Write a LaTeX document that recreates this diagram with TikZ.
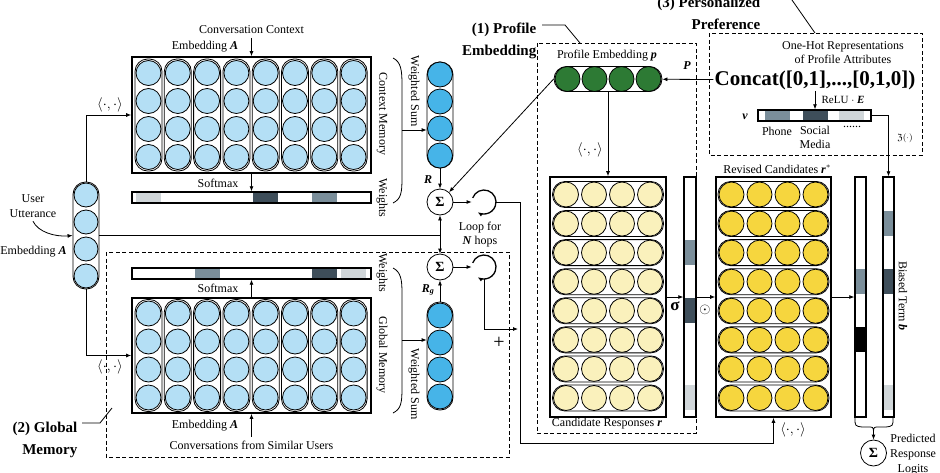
\documentclass[tikz,border=0pt]{standalone}
\usepackage{fontspec}
\setmainfont{Liberation Serif}
\usepackage{amssymb}
\usetikzlibrary{arrows.meta,positioning}

\definecolor{memblue}{RGB}{180,223,245}
\definecolor{sumblue}{RGB}{70,180,232}
\definecolor{profgreen}{RGB}{45,122,52}
\definecolor{candyellow}{RGB}{250,241,188}
\definecolor{revyellow}{RGB}{246,214,62}
\definecolor{wlight}{RGB}{208,214,217}
\definecolor{wmid}{RGB}{122,142,154}
\definecolor{wdark}{RGB}{62,78,90}

\newcommand{\mvec}[1]{\textbf{\textit{#1}}}
\newcommand{\inprod}{$\langle\cdot,\cdot\rangle$}

\begin{document}
\begin{tikzpicture}[x=1pt,y=-1pt,line width=0.8pt,
  font=\fontsize{12}{14}\selectfont,
  >={Latex[length=5pt,width=4pt]},
  membox/.style={draw,line width=1.6pt,inner sep=0pt},
  wbar/.style={draw,line width=1.4pt,inner sep=0pt},
  capsule/.style={draw,rounded corners=12.5pt,inner sep=0pt},
  cell/.style={circle,draw,inner sep=0pt,minimum size=25pt},
  sumnode/.style={circle,draw,inner sep=0pt,minimum size=26pt,font=\fontsize{14}{14}\selectfont\bfseries},
  loopnode/.style={circle,inner sep=0pt,minimum size=24pt},
  group/.style={draw,dash pattern=on 4pt off 2.5pt},
  grouplabel/.style={anchor=east,align=right,font=\fontsize{15}{22}\selectfont\bfseries},
  sidelabel/.style={rotate=-90},
  prodlabel/.style={font=\fontsize{15}{15}\selectfont},
  twolines/.style={align=center,font=\fontsize{12}{15}\selectfont}]
  \useasboundingbox (0,0) rectangle (940,472);

  % context memory
  \node[membox,minimum width=239,minimum height=116] (ctxmem) at (251.5,115) {};
  \foreach \i in {0,...,7} {
    \node[capsule,minimum width=27,minimum height=112] at (148.5+\i*29.3,115) {};
    \foreach \j in {0,...,3}
      \node[cell,fill=memblue] at (148.5+\i*29.3,73+\j*28) {};
  }
  \node[wbar,minimum width=239,minimum height=11] (ctxw) at (251.5,197.5) {};
  \foreach \i/\c in {0/wlight,4/wdark,6/wmid}
    \fill[\c] (136+\i*29.3,193) rectangle +(25,9);
  \node (ctxin) at (251.5,30) {Conversation Context};
  \node at (205,47) {Embedding \mvec{A}};
  \node at (218,183) {Softmax};
  \draw[->] (ctxin) -- (ctxmem);
  \draw[->] (ctxmem) -- (ctxw);
  \node[sidelabel] at (382,114) {Context Memory};
  \node[sidelabel] at (382,198) {Weights};
  \node[sidelabel] at (414,91) {Weighted Sum};

  % global memory
  \node[membox,minimum width=239,minimum height=115] (glbmem) at (251.5,355.5) {};
  \foreach \i in {0,...,7} {
    \node[capsule,minimum width=27,minimum height=112] at (148.5+\i*29.3,355.5) {};
    \foreach \j in {0,...,3}
      \node[cell,fill=memblue] at (148.5+\i*29.3,313.5+\j*28) {};
  }
  \node[wbar,minimum width=239,minimum height=11] (glbw) at (251.5,273.5) {};
  \foreach \i/\c in {2/wmid,6/wdark,7/wlight}
    \fill[\c] (136+\i*29.3,269) rectangle +(25,9);
  \node (glbin) at (251.5,445) {Conversations from Similar Users};
  \node at (205,426) {Embedding \mvec{A}};
  \node at (218,288) {Softmax};
  \draw[->] (glbin) -- (glbmem);
  \draw[->] (glbmem) -- (glbw);
  \node[sidelabel] at (382,273) {Weights};
  \node[sidelabel] at (382,355) {Global Memory};
  \node[sidelabel] at (414,384) {Weighted Sum};

  % user utterance
  \node[capsule,minimum width=26,minimum height=107] (user) at (86,235.5) {};
  \foreach \j in {0,...,3}
    \node[cell,fill=memblue,minimum size=24pt] at (86,195+\j*27) {};
  \node[twolines] (utt) at (33,206) {User\\Utterance};
  \node at (33.5,252) {Embedding \mvec{A}};
  \draw[->] (utt.south) .. controls (38,232) and (55,237) .. (user.west);
  \draw[->] (user.north) |- (ctxmem.west);
  \draw[->] (user.south) |- (glbmem.west);
  \node[prodlabel] at (110,105) {\inprod};
  \node[prodlabel] at (110,367) {\inprod};

  % weighted sums
  \node[capsule,minimum width=26,minimum height=106] (rvec) at (440,115) {};
  \node[capsule,minimum width=26,minimum height=108] (rgvec) at (440,356) {};
  \foreach \j in {0,...,3} {
    \node[cell,fill=sumblue] at (440,74.5+\j*27) {};
    \node[cell,fill=sumblue] at (440,315.5+\j*27) {};
  }
  \draw (393,58) .. controls (401,62) and (402,70) .. (402,85) -- (402,178)
    .. controls (402,193) and (401,199) .. (393,203);
  \draw (393,268) .. controls (401,272) and (402,280) .. (402,293) -- (402,388)
    .. controls (402,403) and (401,409) .. (393,413);
  \coordinate (cws) at (402,130);
  \coordinate (gws) at (402,340);
  \draw[->] (cws) -- (cws -| rvec.west);
  \draw[->] (gws) -- (gws -| rgvec.west);

  % hops
  \node[sumnode] (sum1) at (440,202) {Σ};
  \node[sumnode] (sum2) at (440,267) {Σ};
  \node[loopnode] (loop1) at (484,202) {};
  \node[loopnode] (loop2) at (484,267) {};
  \foreach \l in {loop1,loop2}
    \draw[->,line width=1.3pt] (\l) ++(-160:12) arc[start angle=-160,end angle=122,radius=12];
  \node at (428,180) {\mvec{R}};
  \node at (428,290) {\mvec{R}\textsubscript{\mvec{g}}};
  \node[align=center] at (480,235) {Loop for\\\mvec{N} hops};
  \draw[->] (rvec) -- (sum1);
  \draw[->] (rgvec) -- (sum2);
  \draw[<->] (sum1) -- (sum2);
  \draw (user.east) -- (user.east -| sum1.center);
  \draw[->] (sum1) -- (loop1.west);
  \draw[->] (sum2) -- (loop2.west);
  \coordinate (join) at (518,329);
  \draw[->] (loop2.south) |- (join);
  \node[font=\fontsize{20}{20}\selectfont] at (499,343) {+};

  % profile embedding
  \node[capsule,minimum width=108,minimum height=25] (prof) at (608,79) {};
  \foreach \i in {0,...,3}
    \node[cell,fill=profgreen] at (567.5+\i*27,79) {};
  \node at (607,56) {Profile Embedding \mvec{p}};
  \draw[->] (prof.west) -- (sum1);

  % candidates
  \node[membox,minimum width=116,minimum height=240] (cand) at (608,297) {};
  \node[membox,minimum width=115,minimum height=240] (rev) at (773.5,297) {};
  \foreach \j in {0,...,7} {
    \node[capsule,minimum width=111,minimum height=26] at (608,194.5+\j*29.07) {};
    \node[capsule,minimum width=111,minimum height=26] at (773.5,194.5+\j*29.07) {};
    \foreach \i in {0,...,3} {
      \node[cell,fill=candyellow] at (566+\i*28,194.5+\j*29.07) {};
      \node[cell,fill=revyellow] at (731.5+\i*28,194.5+\j*29.07) {};
    }
  }
  \node at (607,424) {Candidate Responses \mvec{r}};
  \node at (777,169) {Revised Candidates \mvec{r}$^*$};
  \node[prodlabel] at (590,150) {\inprod};
  \draw[->] (prof) -- (cand);

  % score bars
  \node[wbar,minimum width=12,minimum height=240] (sig) at (690,297) {};
  \node[wbar,minimum width=11,minimum height=240] (out) at (860.5,297) {};
  \node[wbar,minimum width=11,minimum height=240] (bias) at (888.5,297) {};
  \foreach \j/\c in {2/wmid,4/wdark,7/wlight}
    \fill[\c] (685,182+\j*29.07) rectangle +(10,25);
  \foreach \j/\c in {3/wmid,5/black}
    \fill[\c] (856,182+\j*29.07) rectangle +(9,25);
  \foreach \j/\c in {1/wmid,3/wdark,7/wlight}
    \fill[\c] (884,182+\j*29.07) rectangle +(9,25);
  \draw[->] (cand) -- (sig);
  \draw[->] (sig) -- (rev);
  \draw[->] (rev) -- (out);
  \node[font=\fontsize{17}{17}\selectfont\bfseries] at (675,306) {σ};
  \node[font=\fontsize{14}{14}\selectfont] at (705,310) {$\odot$};
  \node[sidelabel] at (903,296) {Biased Term \mvec{b}};

  \coordinate (turn) at (520,443);
  \draw[->] (loop1.east) -| (turn) -| (rev.south);
  \node[prodlabel] at (793,430) {\inprod};

  % personalized preference
  \node[align=center,font=\fontsize{12}{14}\selectfont] at (843,53) {One-Hot Representations\\of Profile Attributes};
  \node[font=\fontsize{21}{23}\selectfont\bfseries,inner sep=1pt] (concat) at (815,80) {Concat([0,1],...,[0,1,0])};
  \node[wbar,minimum width=113,minimum height=11] (vbar) at (814.5,115.5) {};
  \foreach \a/\c in {765/wmid,803/wdark,839/wlight}
    \fill[\c] (\a,111) rectangle +(25,9);
  \node[font=\fontsize{11}{12}\selectfont] at (843,100) {ReLU $\cdot$ \mvec{E}};
  \node at (745,117) {\mvec{v}};
  \node at (777,131) {Phone};
  \node[align=center] at (815,137) {Social\\Media};
  \node at (852,127) {......};
  \node[font=\fontsize{9}{10}\selectfont] at (905,138) {$\mathfrak{Z}(\cdot)$};
  \node at (687,66) {\mvec{P}};
  \draw[->] (concat) -- (prof);
  \draw[->] (concat.south) -- (concat.south |- vbar.north);
  \draw[->] (vbar.east) -| (bias.north);

  % output
  \node[sumnode] (sum3) at (873.5,453) {Σ};
  \coordinate (btip) at (873.5,431);
  \draw (855,418) .. controls (855,426) .. (862,427) -- (868,427) .. controls (873,427) .. (btip)
    .. controls (874,427) .. (879,427) -- (886,427) .. controls (893,426) .. (893,418);
  \draw[->] (btip) -- (sum3);
  \node[twolines] at (913,455) {Predicted\\Response\\Logits};

  % groups
  \draw[group] (106,252) rectangle (509,457);
  \draw[group] (537,43) rectangle (696,433);
  \draw[group] (709,33) rectangle (922,155);
  \node[grouplabel] (lblprof) at (540,41) {(1) Profile\\Embedding};
  \node[grouplabel] (lblglb) at (81,440) {(2) Global\\Memory};
  \node[grouplabel] (lblpers) at (764,13) {(3) Personalized\\Preference};
  \draw (542,25) -- (565,25) -- (580,43);
  \draw (82,423) -- (100,423) -- (112,408);
  \draw (785,-10) -- (815,33);
\end{tikzpicture}
\end{document}
